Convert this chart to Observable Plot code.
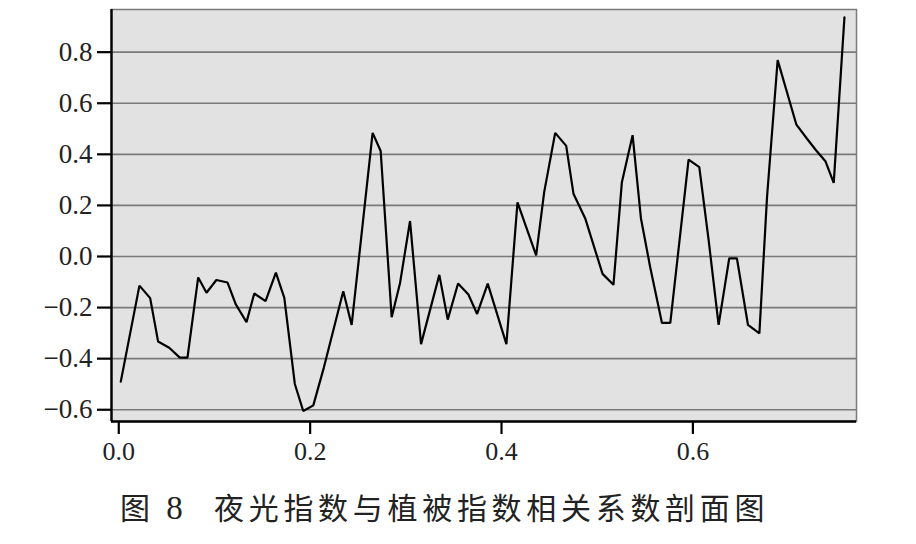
<!DOCTYPE html>
<html>
<head>
<meta charset="utf-8">
<script src="https://cdn.jsdelivr.net/npm/d3@7"></script>
<script src="https://cdn.jsdelivr.net/npm/@observablehq/plot@0.6"></script>
<style>
  html, body { margin: 0; padding: 0; background: #fff; }
  #wrap { position: relative; width: 916px; height: 544px; }
  #chart { position: absolute; left: 0; top: 0; }
  .cap { position: absolute; top: 491px; font-size: 30px; line-height: 1; color: #222; white-space: pre;
    font-family: "Noto Sans CJK SC", sans-serif; letter-spacing: 4.7px; }
  #capNum { left: 120px; }
  #capText { left: 214px; }
  .num { font-family: "Liberation Serif", serif; font-size: 33px; letter-spacing: 0; }
</style>
</head>
<body>
<div id="wrap">
  <div id="chart"></div>
  <div class="cap" id="capNum">图 <span class="num">8</span></div>
  <div class="cap" id="capText">夜光指数与植被指数相关系数剖面图</div>
</div>
<script>
const distance = [0.0021, 0.0216, 0.0328, 0.0411, 0.0527, 0.0638, 0.0718, 0.0830, 0.0917, 0.1020,
  0.1137, 0.1224, 0.1335, 0.1416, 0.1534, 0.1642, 0.1730, 0.1840, 0.1928, 0.2033,
  0.2144, 0.2346, 0.2434, 0.2653, 0.2737, 0.2852, 0.2939, 0.3044, 0.3159, 0.3350,
  0.3438, 0.3546, 0.3654, 0.3745, 0.3856, 0.4051, 0.4167, 0.4362, 0.4446, 0.4561,
  0.4676, 0.4752, 0.4874, 0.5056, 0.5170, 0.5258, 0.5370, 0.5457, 0.5554, 0.5677,
  0.5764, 0.5955, 0.6067, 0.6165, 0.6269, 0.6380, 0.6460, 0.6576, 0.6695, 0.6775,
  0.6886, 0.7082, 0.7193, 0.7287, 0.7385, 0.7472, 0.7584];
const correlation = [-0.490, -0.114, -0.163, -0.333, -0.357, -0.396, -0.396, -0.082, -0.142, -0.092,
  -0.102, -0.188, -0.257, -0.145, -0.175, -0.063, -0.162, -0.499, -0.605, -0.583,
  -0.434, -0.136, -0.268, 0.484, 0.413, -0.238, -0.105, 0.139, -0.343, -0.072,
  -0.247, -0.106, -0.149, -0.225, -0.106, -0.343, 0.212, 0.004, 0.252, 0.484,
  0.433, 0.246, 0.150, -0.068, -0.111, 0.291, 0.475, 0.150, -0.042, -0.260,
  -0.260, 0.379, 0.350, 0.063, -0.268, -0.007, -0.007, -0.268, -0.301, 0.233,
  0.769, 0.516, 0.461, 0.416, 0.373, 0.288, 0.936];
const xTicks = [0.0, 0.2, 0.4, 0.6];
const yTicks = [-0.6, -0.4, -0.2, 0.0, 0.2, 0.4, 0.6, 0.8];
const xDomain = [-0.0076, 0.771];
const yDomain = [-0.646, 0.967];

const data = distance.map((d, i) => ({x: d, y: correlation[i]}));
const fmt = d3.format(".1f");

const chart = Plot.plot({
  width: 916,
  height: 480,
  marginLeft: 111,
  marginRight: 60,
  marginTop: 9,
  marginBottom: 59,
  style: { fontFamily: "'Liberation Serif', serif", fontSize: "26px", color: "#222", background: "#fff" },
  x: { domain: xDomain, ticks: xTicks, tickFormat: fmt, label: null },
  y: { domain: yDomain, ticks: yTicks, tickFormat: fmt, label: null },
  marks: [
    Plot.frame({ fill: "#e2e2e2", stroke: "#7a7a7a", strokeWidth: 1.5 }),
    Plot.ruleY(yTicks, { stroke: "#7a7a7a", strokeWidth: 1.7 }),
    Plot.line(data, { x: "x", y: "y", stroke: "#000", strokeWidth: 2.2, strokeLinejoin: "miter" }),
    Plot.ruleX([xDomain[0]], { stroke: "#000", strokeWidth: 2.4 }),
    Plot.ruleY([yDomain[0]], { stroke: "#000", strokeWidth: 2.4 }),
    Plot.axisX({ ticks: xTicks, tickFormat: fmt, tickSize: 13, tickPadding: 7, strokeWidth: 2.2, stroke: "#000", fill: "#222", fontSize: 26 }),
    Plot.axisY({ ticks: yTicks, tickFormat: fmt, tickSize: 14, tickPadding: 5, strokeWidth: 2.2, stroke: "#000", fill: "#222", fontSize: 27 })
  ]
});
document.getElementById("chart").appendChild(chart);
</script>
</body>
</html>
